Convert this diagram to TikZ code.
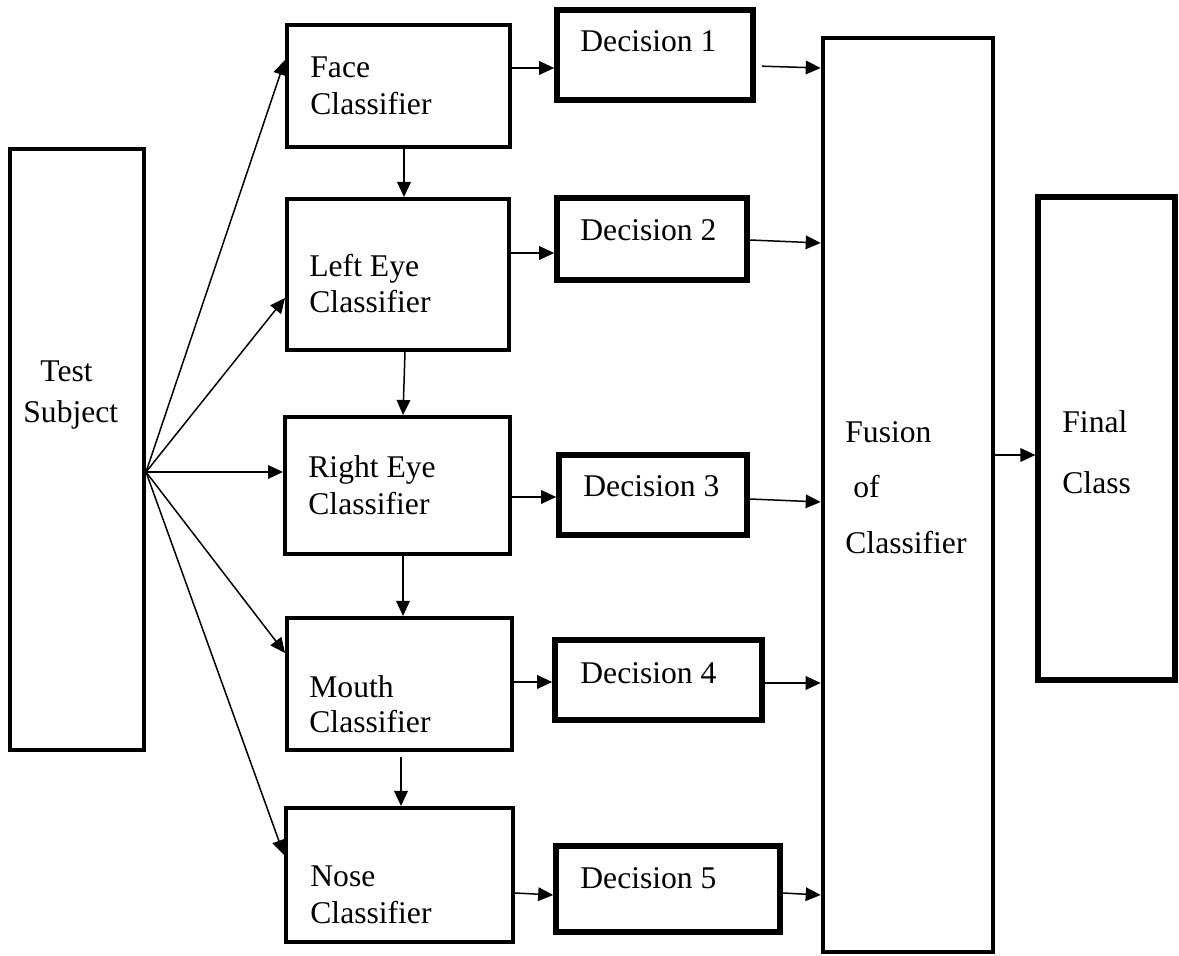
\documentclass[tikz,border=0pt]{standalone}
\usepackage{fontspec}
\setmainfont{Liberation Serif}
\usetikzlibrary{arrows.meta,fit}
\begin{document}
\begin{tikzpicture}[x=0.5pt,y=-0.5pt,
  box/.style={draw, line width=2pt, inner sep=0pt},
  decbox/.style={box, line width=2.8pt},
  lbl/.style={anchor=base west, inner sep=0pt, font=\fontsize{15.8}{19}\selectfont},
  arr/.style={line width=0.75pt, -{Triangle[length=7.5pt,width=6.8pt]}}]
\useasboundingbox (0,0) rectangle (1179,956);

% input block
\node[box, fit={(10,149) (144,750)}] (test) {};
\node[lbl] (test-a) at (40,382) {Test};
\node[lbl] (test-b) at (23,423) {Subject};

% classifiers
\node[box, fit={(287,25) (510,147)}] (face) {};
\node[lbl] (face-a) at (310,78) {Face};
\node[lbl] (face-b) at (310,115) {Classifier};

\node[box, fit={(287,199) (509,350)}] (leye) {};
\node[lbl] (leye-a) at (309,277) {Left Eye};
\node[lbl] (leye-b) at (309,313) {Classifier};

\node[box, fit={(285,417) (510,554)}] (reye) {};
\node[lbl] (reye-a) at (308,478) {Right Eye};
\node[lbl] (reye-b) at (308,515) {Classifier};

\node[box, fit={(287,618) (512,750)}] (mouth) {};
\node[lbl] (mouth-a) at (309,698) {Mouth};
\node[lbl] (mouth-b) at (309,733) {Classifier};

\node[box, fit={(286,808) (513,942)}] (nose) {};
\node[lbl] (nose-a) at (310,886) {Nose};
\node[lbl] (nose-b) at (310,923) {Classifier};

% decisions
\node[decbox, fit={(557,10) (753,100)}] (d1) {};
\node[lbl] (d1-t) at (580,52) {Decision 1};
\node[decbox, fit={(557,198) (747,280)}] (d2) {};
\node[lbl] (d2-t) at (580,241) {Decision 2};
\node[decbox, fit={(559,455) (747,535)}] (d3) {};
\node[lbl] (d3-t) at (583,497) {Decision 3};
\node[decbox, fit={(555,640) (762,720)}] (d4) {};
\node[lbl] (d4-t) at (580,684) {Decision 4};
\node[decbox, fit={(556,846) (780,932)}] (d5) {};
\node[lbl] (d5-t) at (580,889) {Decision 5};

% fusion and output
\node[box, line width=2.3pt, fit={(823,38) (993,952)}] (fusion) {};
\node[lbl] (fusion-a) at (845,443) {Fusion};
\node[lbl] (fusion-b) at (853,498) {of};
\node[lbl] (fusion-c) at (845,554) {Classifier};

\node[box, line width=2.6pt, fit={(1038,197) (1175,680)}] (final) {};
\node[lbl] (final-a) at (1062,433) {Final};
\node[lbl] (final-b) at (1062,494) {Class};

% fan-out from the test subject
\coordinate (hub) at (test.east |- 0,472);
\draw[arr] (hub) -- (face.west |- 0,60);
\draw[arr] (hub) -- (leye.west |- 0,298);
\draw[arr] (hub) -- (reye.west |- 0,472);
\draw[arr] (hub) -- (mouth.west |- 0,653);
\draw[arr] (hub) -- (nose.west |- 0,855);

% classifier chain
\draw[arr] (face.south -| 404,0) -- (leye.north -| 404,0);
\draw[arr] (leye.south -| 405,0) -- (reye.north -| 403,0);
\draw[arr] (reye.south -| 403,0) -- (mouth.north -| 403,0);
\draw[arr, shorten <=2.5pt] (mouth.south -| 401,0) -- (nose.north -| 401,0);

% classifiers to decisions
\draw[arr] (face.east |- 0,68) -- (d1.west |- 0,68);
\draw[arr] (leye.east |- 0,253) -- (d2.west |- 0,253);
\draw[arr] (reye.east |- 0,497) -- (d3.west |- 0,497);
\draw[arr] (mouth.east |- 0,682) -- (d4.west |- 0,682);
\draw[arr] (nose.east |- 0,893) -- (d5.west |- 0,895);

% decisions to fusion
\draw[arr, shorten <=3pt] (d1.east |- 0,66) -- (fusion.west |- 0,68);
\draw[arr] (d2.east |- 0,240) -- (fusion.west |- 0,243);
\draw[arr] (d3.east |- 0,499) -- (fusion.west |- 0,502);
\draw[arr] (d4.east |- 0,683) -- (fusion.west |- 0,683);
\draw[arr] (d5.east |- 0,893) -- (fusion.west |- 0,895);

% fusion to final class
\draw[arr] (fusion.east |- 0,455) -- (final.west |- 0,455);
\end{tikzpicture}
\end{document}
